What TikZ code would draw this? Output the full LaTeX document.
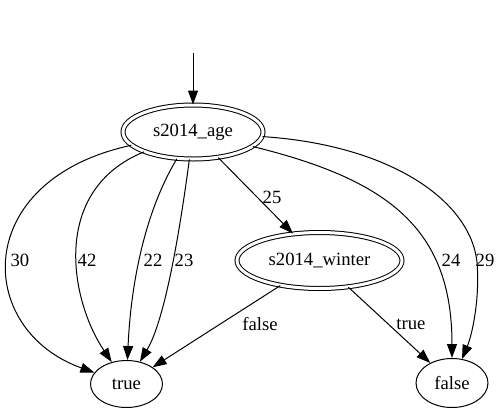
\documentclass[tikz,border=0pt]{standalone}
\usepackage{fontspec}
\setmainfont{LiberationSerif}[Extension=.ttf,UprightFont=*-Regular]
\usetikzlibrary{arrows.meta,shapes.geometric}

\begin{document}
\begin{tikzpicture}[x=1pt,y=-1pt,font=\rmfamily\fontsize{18.67}{22}\selectfont,
 state/.style={ellipse,draw,line width=1pt,inner sep=0pt},
 dstate/.style={state,double,double distance=3pt},
 edge/.style={line width=1pt,-{Triangle[length=14pt,width=10pt]}},
 lbl/.style={inner sep=0pt}]
 \useasboundingbox(0,0)rectangle(501,413);
 % states
 \node[dstate,minimum width=140pt,minimum height=54pt](age)at(193,132){s2014\_age};
 \node[dstate,minimum width=165pt,minimum height=56pt](winter)at(319.5,260.5){s2014\_winter};
 \node[state,minimum width=72pt,minimum height=47pt](true)at(126.5,384){true};
 \node[state,minimum width=72pt,minimum height=49pt](false)at(452,383){false};
 \coordinate(start)at(193,53);
 % transitions
 \draw[edge](start)--(age);
 \draw[edge](age)..controls(-30,180)and(-25,330)..(true)node[lbl]at(20,260){30};
 \draw[edge](age)..controls(50,190)and(70,300)..(true)node[lbl]at(87,260){42};
 \draw[edge](age)..controls(140,220)and(130,300)..(true)node[lbl]at(153,260){22};
 \draw[edge](age)..controls(180,230)and(165,320)..(true)node[lbl]at(184,260){23};
 \draw[edge](age)--(winter)node[lbl]at(272,197){25};
 \draw[edge](age)..controls(390,180)and(452,230)..(false)node[lbl]at(451,260){24};
 \draw[edge](age)..controls(390,145)and(470,200)..(477,262)..controls(480,300)and(472,335)..(false)node[lbl]at(485,260){29};
 \draw[edge](winter)--(true)node[lbl]at(260,324){false};
 \draw[edge](winter)--(false)node[lbl]at(411,324){true};
\end{tikzpicture}
\end{document}
